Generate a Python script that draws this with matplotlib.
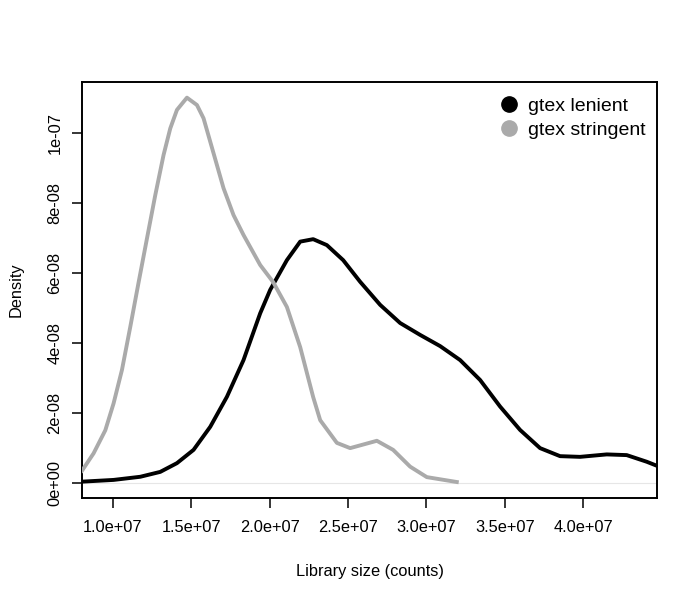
import matplotlib.pyplot as plt
from matplotlib.lines import Line2D
from matplotlib.ticker import FuncFormatter

plt.rcParams['font.family'] = ['Liberation Sans', 'DejaVu Sans']

# density curves
lenient_x = [8.044e6, 1.0057e7, 1.1758e7, 1.3032e7, 1.4096e7, 1.5154e7, 1.6218e7, 1.7282e7,
             1.8339e7, 1.9403e7, 2.0040e7, 2.1104e7, 2.1952e7, 2.2780e7, 2.3652e7, 2.4691e7,
             2.5774e7, 2.7049e7, 2.8323e7, 2.9597e7, 3.0871e7, 3.2145e7, 3.3419e7, 3.4693e7,
             3.5968e7, 3.7242e7, 3.8516e7, 3.9790e7, 4.1491e7, 4.2765e7, 4.4039e7, 4.4714e7]
lenient_y = [0.03e-8, 0.08e-8, 0.17e-8, 0.31e-8, 0.56e-8, 0.94e-8, 1.60e-8, 2.46e-8,
             3.51e-8, 4.85e-8, 5.52e-8, 6.37e-8, 6.90e-8, 6.97e-8, 6.80e-8, 6.37e-8,
             5.75e-8, 5.09e-8, 4.57e-8, 4.23e-8, 3.91e-8, 3.51e-8, 2.94e-8, 2.18e-8,
             1.51e-8, 0.99e-8, 0.76e-8, 0.74e-8, 0.81e-8, 0.79e-8, 0.60e-8, 0.48e-8]

stringent_x = [8.044e6, 8.783e6, 9.529e6, 1.0057e7, 1.0592e7, 1.1121e7, 1.165e7, 1.2185e7,
               1.2714e7, 1.3243e7, 1.367e7, 1.4096e7, 1.4733e7, 1.537e7, 1.5791e7, 1.6218e7,
               1.6645e7, 1.7065e7, 1.7702e7, 1.8339e7, 1.9403e7, 2.0231e7, 2.1104e7,
               2.1952e7, 2.278e7, 2.3226e7, 2.429e7, 2.5136e7, 2.6838e7, 2.7876e7,
               2.8959e7, 3.0023e7, 3.1934e7]
stringent_y = [0.343e-8, 0.841e-8, 1.50e-8, 2.27e-8, 3.23e-8, 4.46e-8, 5.73e-8, 6.99e-8,
               8.23e-8, 9.38e-8, 10.14e-8, 10.67e-8, 11.02e-8, 10.81e-8, 10.43e-8, 9.76e-8,
               9.09e-8, 8.43e-8, 7.66e-8, 7.09e-8, 6.23e-8, 5.74e-8, 5.03e-8,
               3.88e-8, 2.45e-8, 1.79e-8, 1.14e-8, 0.99e-8, 1.20e-8, 0.94e-8,
               0.46e-8, 0.16e-8, 0.02e-8]

x_ticks = [1.0e7, 1.5e7, 2.0e7, 2.5e7, 3.0e7, 3.5e7, 4.0e7]
y_ticks = [0, 2e-8, 4e-8, 6e-8, 8e-8, 1e-7]
labels = ['gtex lenient', 'gtex stringent']
colors = ['black', '#aaaaaa']

fig = plt.figure(figsize=(7, 6), dpi=100)
ax = fig.add_axes([82/700, 1 - 497.7/600, (657.3 - 82)/700, (497.7 - 81.7)/600])

ax.axhline(0, color='#e6e6e6', lw=0.8, zorder=1)
ax.plot(lenient_x, lenient_y, color=colors[0], lw=2.8, solid_joinstyle='round', zorder=2)
ax.plot(stringent_x, stringent_y, color=colors[1], lw=2.8, solid_joinstyle='round', zorder=3)

ax.set_xlim(8.044e6, 4.4714e7)
ax.set_ylim(-4.29e-9, 1.1477e-7)
ax.set_xticks(x_ticks)
ax.set_yticks(y_ticks)
ax.xaxis.set_major_formatter(FuncFormatter(lambda v, p: '%.1e' % v))
ax.yaxis.set_major_formatter(FuncFormatter(lambda v, p: '%.0e' % v))
ax.tick_params(axis='both', length=7, width=1.1, labelsize=11.8, direction='out')
ax.tick_params(axis='x', pad=9)
ax.tick_params(axis='y', pad=7)
for t in ax.get_yticklabels():
    t.set_rotation(90)
    t.set_va('center')
for s in ax.spines.values():
    s.set_linewidth(1.4)

ax.set_xlabel('Library size (counts)', fontsize=11.8, labelpad=21)
ax.set_ylabel('Density', fontsize=11.8, labelpad=17.5)

handles = [Line2D([], [], ls='', marker='o', ms=11, color=c) for c in colors]
fig.legend(handles, labels, loc='upper right', bbox_to_anchor=(646/700, 1 - 97/600),
           frameon=False, fontsize=14, borderpad=0, borderaxespad=0,
           handlelength=0.8, handletextpad=0.6, labelspacing=0.35)

fig.savefig('out.png', dpi=100)
